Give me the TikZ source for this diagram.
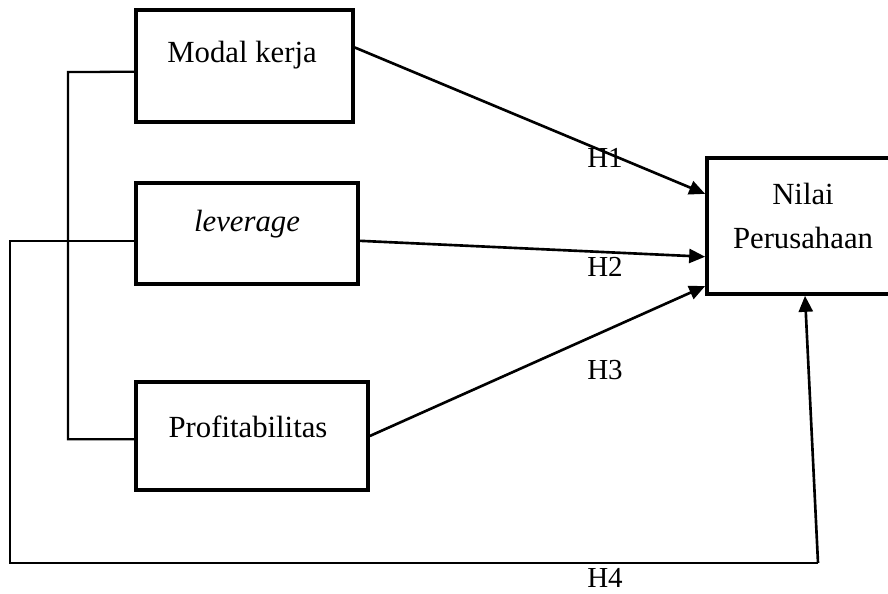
\documentclass[tikz,border=0pt]{standalone}
\usepackage{fontspec}
\setmainfont{Liberation Serif}
\usetikzlibrary{positioning,arrows.meta,calc}

\begin{document}
\begin{tikzpicture}[
        x=0.02cm, y=-0.02cm,
        >={Triangle[length=3.2mm, width=2.8mm]},
        var/.style  ={draw, line width=2.1pt, inner sep=0pt},
        txt/.style  ={font=\fontsize{17.5}{24.5}\selectfont, align=center, inner sep=0pt},
        hlbl/.style ={font=\fontsize{16.5}{20}\selectfont, inner sep=0pt},
        link/.style ={line width=1.3pt},
        rd/.style   ={->, line width=1.5pt},
    ]
    \useasboundingbox (0,0) rectangle (888,594);

    % ===================== Variables =====================
    \node[var, minimum width=4.34cm, minimum height=2.24cm] (mk)  at (244.5,66)  {};
    \node[txt] (mk-t) at (242,55) {Modal kerja};

    \node[var, minimum width=4.44cm, minimum height=2.02cm] (lev) at (247,233.5) {};
    \node[txt] (lev-t) at (247,224) {\itshape leverage};

    \node[var, minimum width=4.64cm, minimum height=2.16cm] (prof) at (252,436) {};
    \node[txt] (prof-t) at (248,427) {Profitabilitas};

    \node[var, minimum width=3.92cm, minimum height=2.72cm] (nilai) at (805,226) {};
    \node[txt] (nilai-t) at (803,216) {Nilai\\Perusahaan};

    % ===================== Paths H1--H3 =====================
    \draw[rd] ($(mk.north east)!0.34!(mk.south east)$)
        -- ($(nilai.north west)!0.27!(nilai.south west)$);
    \draw[rd] ($(lev.north east)!0.57!(lev.south east)$)
        -- ($(nilai.north west)!0.72!(nilai.south west)$);
    \draw[rd] (prof.east)
        -- ($(nilai.north west)!0.93!(nilai.south west)$);

    \node[hlbl] (h1) at (605,158) {H1};
    \node[hlbl] (h2) at (605,267) {H2};
    \node[hlbl] (h3) at (605,370) {H3};

    % ===================== Links on the left =====================
    \coordinate (mkl) at (68,72);
    \draw[link] ($(mk.north west)!0.55!(mk.south west)$) -- (mkl)
        |- ($(prof.north west)!0.53!(prof.south west)$);

    % ===================== Path H4 =====================
    \coordinate (lc) at (10,563);
    \coordinate (rc) at (818,563);
    \draw[link] ($(lev.north west)!0.57!(lev.south west)$) -| (lc) -- (rc);
    \draw[rd] (rc) -- (nilai.south);
    \node[hlbl] (h4) at (605,578) {H4};
\end{tikzpicture}
\end{document}
